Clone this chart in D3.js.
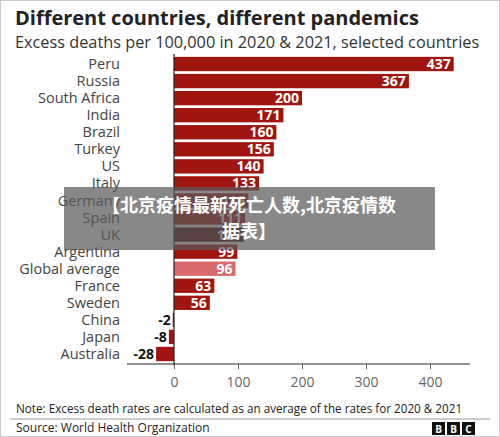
<!DOCTYPE html><html><head><meta charset="utf-8"><script src="https://cdn.jsdelivr.net/npm/d3@7"></script>
<style>body{margin:0;background:#fff}svg{font-family:"Open Sans",sans-serif}</style></head><body><svg width="500" height="437"></svg>
<script>
const countries=["Peru","Russia","South Africa","India","Brazil","Turkey","US","Italy","Germany","Spain","UK","Argentina","Global average","France","Sweden","China","Japan","Australia"];
const values=[437,367,200,171,160,156,140,133,116,111,109,99,96,63,56,-2,-8,-28];
const ticks=[0,100,200,300,400];
const svg=d3.select("svg");
svg.append("rect").attr("x",0.5).attr("y",0.5).attr("width",499).attr("height",436).attr("fill","none").attr("stroke","#ccc");
svg.append("text").attr("x",15).attr("y",25).attr("font-size",20).attr("font-weight",700).attr("fill","#222").text("Different countries, different pandemics");
svg.append("text").attr("x",15).attr("y",48).attr("font-size",16.3).attr("fill","#333").text("Excess deaths per 100,000 in 2020 & 2021, selected countries");
const x=d3.scaleLinear().domain([0,400]).range([174,430]);
const y=d3.scaleBand().domain(countries).range([56,362]).paddingInner(0.16).paddingOuter(0.05);
const col=(c)=>c==="Global average"?"#d9696b":c==="UK"?"#5c0505":"#a0150f";
const g=svg.append("g");
countries.forEach((c,i)=>{
 const v=values[i];
 g.append("rect").attr("x",x(Math.min(0,v))).attr("y",y(c)).attr("width",Math.abs(x(v)-x(0))).attr("height",y.bandwidth()).attr("fill",col(c));
 g.append("text").attr("x",120).attr("y",y(c)+y.bandwidth()/2).attr("dy","0.35em").attr("text-anchor","end").attr("font-size",14.5).attr("fill","#444").text(c);
 if(v>=0) g.append("text").attr("x",x(v)-3).attr("y",y(c)+y.bandwidth()/2).attr("dy","0.36em").attr("text-anchor","end").attr("font-size",14).attr("font-weight",700).attr("fill","#fff").text(v);
 else g.append("text").attr("x",x(v)-2).attr("y",y(c)+y.bandwidth()/2).attr("dy","0.36em").attr("text-anchor","end").attr("font-size",14).attr("font-weight",700).attr("fill","#111").text(v);
});
svg.append("line").attr("x1",x(0)).attr("x2",x(0)).attr("y1",54).attr("y2",365).attr("stroke","#222").attr("stroke-width",1.2);
const ax=svg.append("g").attr("transform","translate(0,364)").call(d3.axisBottom(x).tickValues(ticks).tickSize(5).tickPadding(8));
ax.select(".domain").remove();
ax.append("line").attr("x1",127).attr("x2",470).attr("stroke","#222");
ax.selectAll("text").attr("font-size",14).attr("fill","#666").attr("font-family","Open Sans");
ax.selectAll(".tick line").attr("stroke","#666");
svg.append("text").attr("x",16).attr("y",413).attr("font-size",11.7).attr("fill","#222").text("Note: Excess death rates are calculated as an average of the rates for 2020 & 2021");
svg.append("line").attr("x1",10).attr("x2",490).attr("y1",419).attr("y2",419).attr("stroke","#999");
svg.append("text").attr("x",16).attr("y",432).attr("font-size",12).attr("fill","#222").text("Source: World Health Organization");
["B","B","C"].forEach((t,i)=>{svg.append("rect").attr("x",432+i*15).attr("y",422).attr("width",13).attr("height",13).attr("fill","#111");
svg.append("text").attr("x",438.5+i*15).attr("y",432.5).attr("text-anchor","middle").attr("font-size",10).attr("font-weight",700).attr("fill","#fff").text(t);});
svg.append("rect").attr("x",64).attr("y",187).attr("width",371).attr("height",63).attr("fill","rgba(90,90,90,0.72)");
svg.append("text").attr("x",249).attr("y",212).attr("text-anchor","middle").attr("font-size",18).attr("font-weight",700).attr("fill","#fff").attr("font-family","Noto Sans CJK SC").text("【北京疫情最新死亡人数,北京疫情数");
svg.append("text").attr("x",249).attr("y",238).attr("text-anchor","middle").attr("font-size",18).attr("font-weight",700).attr("fill","#fff").attr("font-family","Noto Sans CJK SC").text("据表】");
</script></body></html>
